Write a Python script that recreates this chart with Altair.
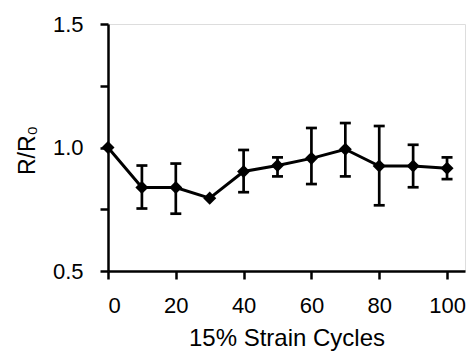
import altair as alt
import pandas as pd

cycles = [0, 10, 20, 30, 40, 50, 60, 70, 80, 90, 100]
ratio = [1.0, 0.838, 0.838, 0.795, 0.903, 0.927, 0.956, 0.993, 0.925, 0.925, 0.916]
err_hi = [1.0, 0.927, 0.935, 0.795, 0.99, 0.96, 1.079, 1.099, 1.087, 1.011, 0.96]
err_lo = [1.0, 0.753, 0.732, 0.795, 0.819, 0.883, 0.852, 0.883, 0.766, 0.839, 0.872]

x_ticks = [0, 20, 40, 60, 80, 100]
y_ticks = [0.5, 0.75, 1.0, 1.25, 1.5]

df = pd.DataFrame({"cycles": cycles, "ratio": ratio, "hi": err_hi, "lo": err_lo})

FONT = "Liberation Sans"
W, H = 357, 247

xs = alt.Scale(domain=[0, 105.3], nice=False, zero=False)
ys = alt.Scale(domain=[0.5, 1.5], nice=False, zero=False)

x_axis = alt.Axis(
    values=x_ticks, title="15% Strain Cycles", grid=False,
    labelFont=FONT, labelFontSize=22, labelColor="black", labelPadding=16,
    tickSize=8, tickWidth=2.5, tickColor="black",
    domainWidth=2.5, domainColor="black",
    titleFont=FONT, titleFontSize=24, titleFontWeight="normal", titleColor="black",
    titleX=W / 2, titleY=74, titleBaseline="alphabetic", titleAnchor="middle",
)
y_axis = alt.Axis(
    values=y_ticks, title="R/R\u2080", grid=False,
    labelExpr="datum.value % 0.5 == 0 ? format(datum.value, '.1f') : ''",
    labelFont=FONT, labelFontSize=22, labelColor="black", labelPadding=17,
    tickSize=8, tickWidth=2.5, tickColor="black",
    domainWidth=2.5, domainColor="black",
    titleFont=FONT, titleFontSize=23, titleFontWeight="normal", titleColor="black",
    titleX=-74, titleY=126, titleBaseline="alphabetic", titleAngle=-90, titleAlign="center",
)

base = alt.Chart(df)

line = base.mark_line(color="black", strokeWidth=3).encode(
    x=alt.X("cycles:Q", scale=xs, axis=x_axis),
    y=alt.Y("ratio:Q", scale=ys, axis=y_axis),
)

bars = base.transform_filter("datum.hi > datum.lo").mark_rule(color="black", strokeWidth=2.7).encode(
    x="cycles:Q", y="lo:Q", y2="hi:Q"
)
caps_hi = base.transform_filter("datum.hi > datum.lo").mark_tick(
    color="black", orient="horizontal", size=11, thickness=2.7, opacity=1
).encode(x="cycles:Q", y="hi:Q")
caps_lo = base.transform_filter("datum.hi > datum.lo").mark_tick(
    color="black", orient="horizontal", size=11, thickness=2.7, opacity=1
).encode(x="cycles:Q", y="lo:Q")

pts = base.mark_point(shape="diamond", filled=True, size=170, color="black", opacity=1).encode(
    x="cycles:Q", y="ratio:Q"
)

chart = alt.layer(line, bars, caps_hi, caps_lo, pts).properties(
    width=W, height=H,
    autosize=alt.AutoSizeParams(type="none"),
    padding={"left": 100, "top": 16, "right": 2, "bottom": 81},
).configure_view(stroke=None).configure(background="white")

chart.save("out.html", embed_options={"renderer": "svg", "actions": False})
